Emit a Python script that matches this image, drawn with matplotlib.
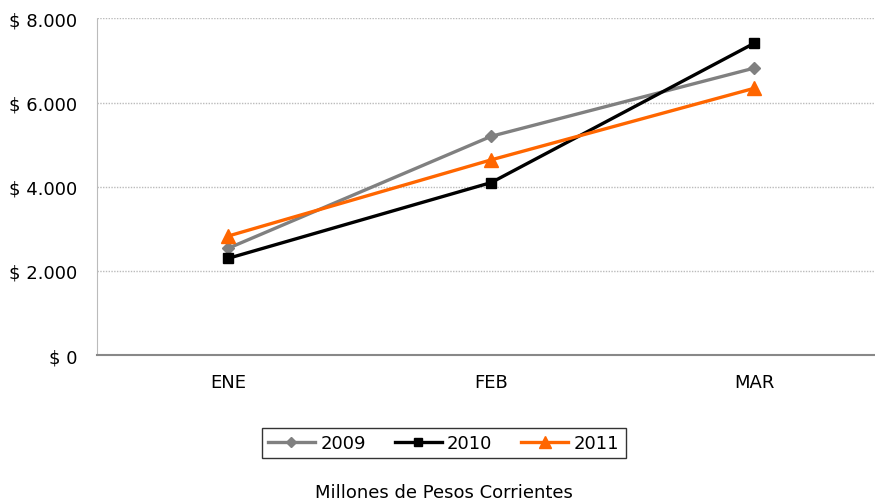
import matplotlib
matplotlib.use("Agg")
import matplotlib.pyplot as plt
from matplotlib.ticker import FuncFormatter

meses = ["ENE", "FEB", "MAR"]
serie_2009 = [2540, 5200, 6820]
serie_2010 = [2300, 4100, 7410]
serie_2011 = [2830, 4640, 6340]

fig = plt.figure(figsize=(8.75, 5.02), dpi=100)
ax = fig.add_axes([0.1109, 0.2908, 0.8891, 0.6704])

x = range(len(meses))
ax.plot(x, serie_2009, color='#808080', lw=2.4, marker='D', ms=6, label="2009")
ax.plot(x, serie_2010, color='black', lw=2.4, marker='s', ms=7, label="2010")
ax.plot(x, serie_2011, color='#FF6600', lw=2.4, marker='^', ms=10, label="2011")

ax.set_xlim(-0.5, 2.46)
ax.set_ylim(0, 8000)
ax.set_yticks([0, 2000, 4000, 6000, 8000])
ax.yaxis.set_major_formatter(FuncFormatter(lambda v, p: "$ " + f"{int(v):,}".replace(",", ".")))
ax.set_xticks(list(x))
ax.set_xticklabels(meses)

ax.grid(axis='y', color='#bbbbbb', linestyle=(0, (1, 1)), lw=1)
ax.set_axisbelow(True)
for s in ['top', 'right']:
    ax.spines[s].set_visible(False)
ax.spines['left'].set_color('#bbbbbb')
ax.spines['left'].set_linestyle((0, (1, 1)))
ax.spines['bottom'].set_color('#888888')
ax.spines['bottom'].set_linewidth(1.5)
ax.tick_params(length=0, labelsize=13)
ax.tick_params(axis='y', pad=14)
ax.tick_params(axis='x', pad=13)

leg = fig.legend(loc='center', bbox_to_anchor=(0.507, 0.1155), ncol=3, fontsize=13,
                 frameon=True, fancybox=False, edgecolor='black', handlelength=2.6,
                 columnspacing=1.6, handletextpad=0.3, borderpad=0.35, markerscale=0.8)
leg.get_frame().set_linewidth(1)

fig.text(0.507, 0.018, "Millones de Pesos Corrientes", ha='center', va='center', fontsize=13)

fig.savefig("out.png", dpi=100)
